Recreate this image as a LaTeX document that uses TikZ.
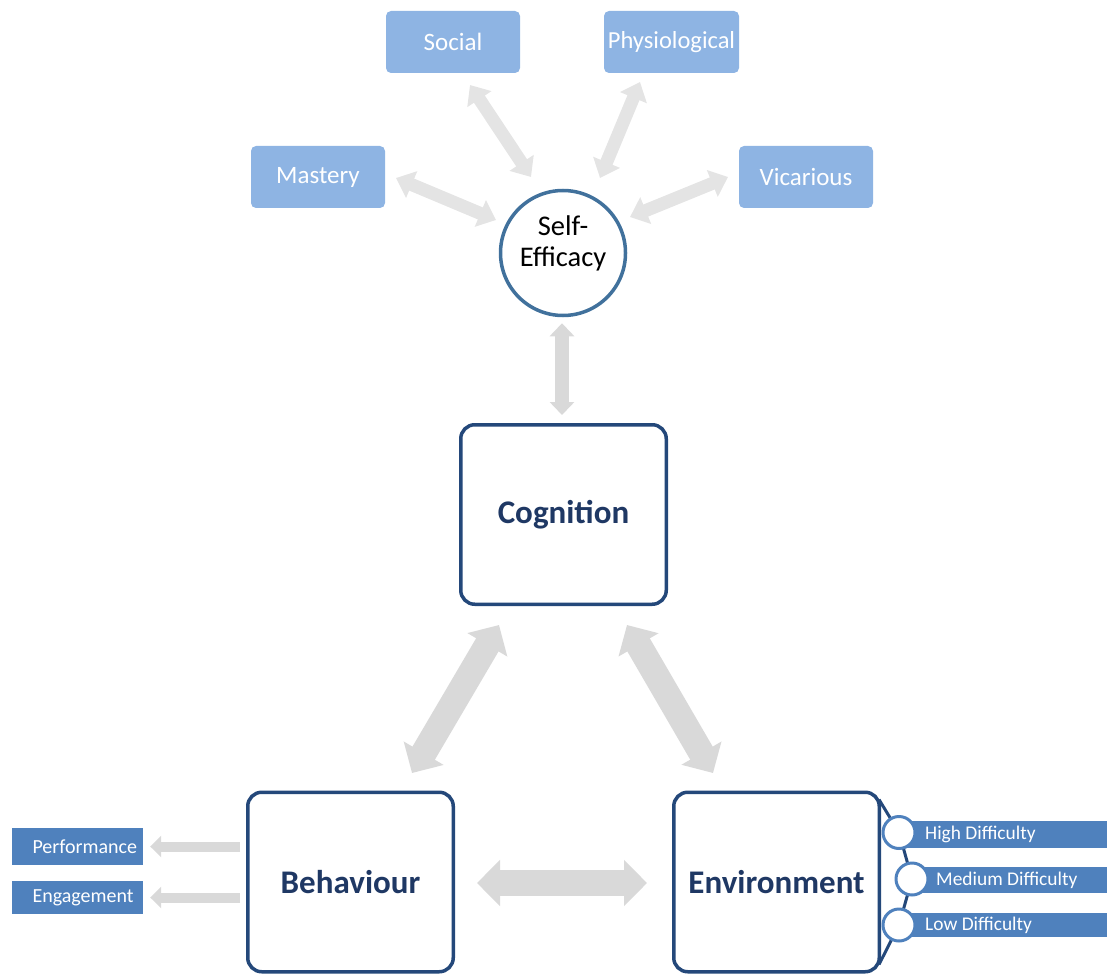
\documentclass[tikz,border=0pt]{standalone}
\usepackage{fontspec}
\setmainfont{Carlito}
\usetikzlibrary{arrows.meta}
\definecolor{lightbox}{HTML}{8EB4E3}
\definecolor{midblue}{HTML}{4F81BD}
\definecolor{ringblue}{HTML}{41719C}
\definecolor{navy}{HTML}{24487A}
\definecolor{navytext}{HTML}{1F3864}
\definecolor{arrowgray}{HTML}{D9D9D9}
\definecolor{arrowlight}{HTML}{E4E4E4}
\begin{document}
\begin{tikzpicture}[x=1pt,y=-1pt,
  srcbox/.style={fill=lightbox, rounded corners=5pt, minimum width=134pt, minimum height=62pt,
    inner sep=0pt, text=white, font=\fontsize{25}{29}\selectfont},
  mainbox/.style={draw=navy, line width=3.5pt, rounded corners=14pt, fill=white,
    minimum width=205.5pt, minimum height=179.5pt, inner sep=0pt,
    text=navytext, font=\bfseries\fontsize{33}{38}\selectfont},
  ring/.style={circle, draw=ringblue, line width=3.5pt, fill=white, minimum size=125pt,
    inner sep=0pt, align=center, text depth=24pt, font=\fontsize{28.5}{31}\selectfont},
  outbox/.style={fill=midblue, minimum width=131pt, inner sep=0pt, text width=90pt,
    align=left, text=white, font=\fontsize{20}{23}\selectfont},
  barbox/.style={fill=midblue, inner sep=0pt, anchor=north west},
  dot/.style={circle, draw=midblue, line width=3pt, fill=white, minimum size=32pt, inner sep=0pt},
  bartext/.style={anchor=west, inner sep=0pt, text=white, font=\fontsize{19.4}{22}\selectfont},
  toparrow/.style={draw=arrowlight, line width=13pt,
    arrows={Triangle[length=17pt,width=28pt]-Triangle[length=17pt,width=28pt]}},
  thinarrow/.style={draw=arrowgray, line width=14pt,
    arrows={Triangle[length=13pt,width=24pt]-Triangle[length=13pt,width=24pt]}},
  bigarrow/.style={draw=arrowgray, line width=26pt,
    arrows={Triangle[length=23pt,width=45pt]-Triangle[length=23pt,width=45pt]}},
  outarrow/.style={draw=arrowgray, line width=10pt,
    arrows={-Triangle[length=11pt,width=21pt]}},
  bracket/.style={draw=navy, line width=3pt}
]
\useasboundingbox (0,0) rectangle (1107,976);

% source boxes
\node[srcbox] (social) at (453,42) {Social};
\node[srcbox, minimum width=135pt, font=\fontsize{24.5}{29}\selectfont] (phys) at (671.5,42) {Physiological};
\node[srcbox] (mastery) at (318,177) {Mastery};
\node[srcbox] (vicarious) at (806,177) {Vicarious};

% self-efficacy
\node[ring] (se) at (563,253) {Self-\\Efficacy};

% main boxes
\node[mainbox] (cog) at (563.5,514.5) {Cognition};
\node[mainbox] (beh) at (350.5,882) {Behaviour};
\node[mainbox] (env) at (776.5,882) {Environment};

% outcome boxes
\node[outbox, minimum height=37pt] (perf) at (77.5,846.5) {Performance};
\node[outbox, minimum height=33pt] (eng) at (77.5,897.5) {Engagement};

% arrow end points
\coordinate (sA) at (470,85);   \coordinate (sB) at (531,177);
\coordinate (pA) at (640,82);   \coordinate (pB) at (600,178);
\coordinate (mA) at (396,178);  \coordinate (mB) at (496,220);
\coordinate (vA) at (728,177);  \coordinate (vB) at (630,217);
\coordinate (cbA) at (499,625); \coordinate (cbB) at (412,773);
\coordinate (ceA) at (627,625); \coordinate (ceB) at (713,773);

% top arrows
\draw[toparrow] (sA) -- (sB);
\draw[toparrow] (pA) -- (pB);
\draw[toparrow] (mA) -- (mB);
\draw[toparrow] (vA) -- (vB);

% self-efficacy <-> cognition
\draw[thinarrow, shorten <=6pt, shorten >=8pt] ([xshift=-1pt]se.south) -- ([xshift=-1.5pt]cog.north);

% triangle arrows
\draw[bigarrow] (cbA) -- (cbB);
\draw[bigarrow] (ceA) -- (ceB);
\draw[bigarrow, shorten <=22pt, shorten >=25pt] ([yshift=-1pt]beh.east) -- ([yshift=-1pt]env.west);

% behaviour outputs
\draw[outarrow, shorten <=6pt, shorten >=7pt] (beh.west |- perf.east) -- (perf.east);
\draw[outarrow, shorten <=6pt, shorten >=7pt] (beh.west |- eng.east) -- (eng.east);

% environment difficulty list
\node[barbox, minimum width=208pt, minimum height=27pt] (hbar) at (899,821) {};
\node[barbox, minimum width=195pt, minimum height=26pt] (mbar) at (912,867) {};
\node[barbox, minimum width=208pt, minimum height=24pt] (lbar) at (899,913) {};
\coordinate (hc) at (899,832.5);
\coordinate (mc) at (912,879);
\coordinate (lc) at (899,925);
\draw[bracket] ([xshift=-2pt,yshift=-9pt]env.north east) -- (hc) -- (mc) -- (lc) -- ([xshift=-2pt,yshift=9pt]env.south east);
\node[dot] (hdot) at (hc) {};
\node[dot] (mdot) at (mc) {};
\node[dot] (ldot) at (lc) {};
\node[bartext] (htext) at (925,834) {High Difficulty};
\node[bartext] (mtext) at (936,880) {Medium Difficulty};
\node[bartext] (ltext) at (925,925) {Low Difficulty};
\end{tikzpicture}
\end{document}
